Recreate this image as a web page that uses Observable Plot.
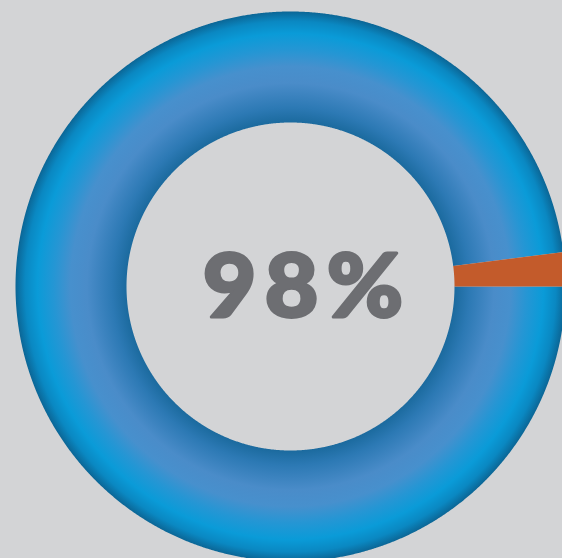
<!DOCTYPE html>
<html>
<head>
<meta charset="utf-8">
<script src="https://cdn.jsdelivr.net/npm/d3@7"></script>
<script src="https://cdn.jsdelivr.net/npm/@observablehq/plot@0.6"></script>
<style>
  html, body { margin: 0; padding: 0; background: #d3d4d6; overflow: hidden; }
  #chart svg { display: block; }
</style>
</head>
<body>
<div id="chart"></div>
<script>
// ---- data ----
const categories = ["Yes", "No"];
const values = [98, 2];
const sliceColors = ["url(#ringGrad)", "#c35b2b"];
const centerLabel = "98%";

// ---- geometry from the pie layout ----
const innerFrac = 164 / 275;
const pie = d3.pie().sort(null).startAngle(Math.PI / 2).endAngle(Math.PI / 2 + 2 * Math.PI);
const arcs = pie(values);

function slicePolygon(a, key) {
  const pts = [];
  const n = Math.max(2, Math.ceil((a.endAngle - a.startAngle) / (Math.PI / 720)));
  for (let i = 0; i <= n; i++) {
    const t = a.startAngle + (a.endAngle - a.startAngle) * i / n;
    pts.push({key, x: Math.sin(t), y: Math.cos(t)});
  }
  for (let i = n; i >= 0; i--) {
    const t = a.startAngle + (a.endAngle - a.startAngle) * i / n;
    pts.push({key, x: innerFrac * Math.sin(t), y: innerFrac * Math.cos(t)});
  }
  return pts;
}

const marks = arcs.map((a, i) =>
  Plot.line(slicePolygon(a, categories[i]), {
    x: "x", y: "y", fill: sliceColors[i], stroke: "none", curve: "linear"
  })
);

marks.push(Plot.text([centerLabel], {
  x: () => 0, y: () => 0, text: d => d,
  dx: 16.5, dy: 2,
  fontSize: 88, fontWeight: 900, fill: "#6d6e72",
  stroke: "#6d6e72", strokeWidth: 3,
  fontFamily: "Lato, sans-serif",
  textAnchor: "middle", lineAnchor: "middle",
  className: "center-label"
}));

const svg = Plot.plot({
  width: 562, height: 558,
  margin: 0,
  x: {domain: [-1, 1], range: [15, 565], axis: null},
  y: {domain: [-1, 1], range: [561, 11], axis: null},
  style: {background: "transparent", overflow: "hidden", letterSpacing: "8px"},
  marks
});

// radial gradient centred on the ring centre, built from the scales
const sx = svg.scale("x"), sy = svg.scale("y");
const cx = sx.apply(0), cy = sy.apply(0), R = sx.apply(1) - sx.apply(0);
const ns = "http://www.w3.org/2000/svg";
const defs = document.createElementNS(ns, "defs");
const grad = document.createElementNS(ns, "radialGradient");
grad.setAttribute("id", "ringGrad");
grad.setAttribute("gradientUnits", "userSpaceOnUse");
grad.setAttribute("cx", cx); grad.setAttribute("cy", cy); grad.setAttribute("r", R);
const stops = [
  [0, "#1b6a9e"], [0.596, "#1b6a9e"], [0.65, "#2c79b4"], [0.74, "#4a8cc9"],
  [0.80, "#4790cd"], [0.86, "#2596d4"], [0.92, "#0a9bd8"], [0.965, "#0a88c2"], [1, "#0b6696"]
];
for (const [o, c] of stops) {
  const s = document.createElementNS(ns, "stop");
  s.setAttribute("offset", o); s.setAttribute("stop-color", c);
  grad.appendChild(s);
}
defs.appendChild(grad);
svg.insertBefore(defs, svg.firstChild);

// slightly widen the label glyphs around their centre
const labelG = svg.querySelector(".center-label");
if (labelG) {
  const wrap = document.createElementNS(ns, "g");
  const ox = cx + 13;
  wrap.setAttribute("transform", `translate(${ox},0) scale(1.05,1) translate(${-ox},0)`);
  labelG.parentNode.insertBefore(wrap, labelG);
  wrap.appendChild(labelG);
}

document.getElementById("chart").appendChild(svg);
</script>
</body>
</html>
